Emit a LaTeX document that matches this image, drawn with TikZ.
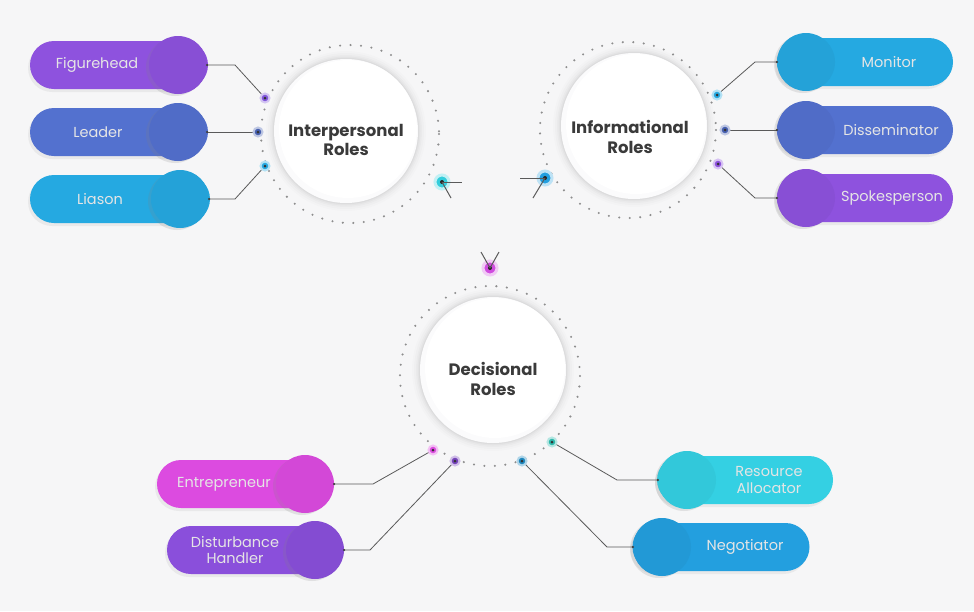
\documentclass[tikz,border=0pt]{standalone}
\usepackage{fontspec}
\setmainfont{Poppins}
\usetikzlibrary{shadows}

\definecolor{bg}{HTML}{F6F6F7}
\definecolor{cpurple}{HTML}{8E52DE}
\definecolor{cindigo}{HTML}{5371CF}
\definecolor{csky}{HTML}{25A9E1}
\definecolor{cmagenta}{HTML}{DC4BE0}
\definecolor{cviolet}{HTML}{8A4FDB}
\definecolor{ccyan}{HTML}{34D0E3}
\definecolor{cblue}{HTML}{239FDF}
\definecolor{cteal}{HTML}{2DB9AC}
\definecolor{dotgray}{HTML}{8E8E8E}
\definecolor{wire}{HTML}{5A5A5A}
\definecolor{heading}{HTML}{3A3A3A}

\tikzset{
  pillbar/.style={rectangle, rounded corners=24pt, minimum height=48pt, inner sep=0pt,
    fill=#1, drop shadow={shadow xshift=-2pt, shadow yshift=-3pt, opacity=.10}},
  knob/.style={circle, minimum size=58pt, inner sep=0pt, fill=#1,
    drop shadow={shadow xshift=-3pt, shadow yshift=-2pt, opacity=.18}},
  pilltext/.style={text=white!90!black, font=\fontsize{14.5}{16.5}\selectfont, align=center, inner sep=0pt},
  heading/.style={text=heading, font=\bfseries\fontsize{16.5}{19.5}\selectfont, align=center, inner sep=0pt},
  dotring/.style={draw=dotgray, line width=2.3pt, dash pattern=on 0pt off 10.5pt, line cap=round},
  wireline/.style={draw=wire, line width=0.8pt},
  tipdot/.style={circle, minimum size=9pt, inner sep=0pt, fill=#1, draw=#1!35, line width=2pt,
    path picture={\fill[black!80] (path picture bounding box.center) circle (1.5pt);}},
  bigpin/.style={circle, minimum size=14pt, inner sep=0pt, fill=#1, draw=#1!30, line width=3pt,
    path picture={\fill[black!85] (path picture bounding box.center) circle (2pt);}},
  endpt/.style={circle, fill=wire!70!black, minimum size=2.5pt, inner sep=0pt},
}

% white disc with a soft grey halo
\newcommand{\softdisc}[2]{%
  \foreach \k/\o in {8/0.012,6/0.016,4/0.02,2.5/0.025,1.2/0.03}{\fill[black,opacity=\o] #1 circle (#2+\k);}%
  \fill[white!60!bg] #1 circle (#2);
  \fill[white] #1 ++(2,-2) circle (#2-3);}

\begin{document}
\begin{tikzpicture}[x=1pt,y=-1pt]
\useasboundingbox (0,0) rectangle (974,611);
\fill[bg] (0,0) rectangle (974,611);

% ---------- the three role hubs ----------
\coordinate (ipc) at (350,134);
\coordinate (ifc) at (628,130);
\coordinate (dcc) at (490,376);
\draw[dotring] (ipc) circle (89);
\draw[dotring] (ifc) circle (88);
\draw[dotring] (dcc) circle (90);
\softdisc{(346,131)}{72}
\softdisc{(634,126)}{73}
\softdisc{(493,370)}{73}
\node[heading] (ip) at (346,140) {Interpersonal\\Roles};
\node[heading] (if) at (630,137) {Informational\\Roles};
\node[heading] (dc) at (493,379) {Decisional\\Roles};

% ---------- pills ----------
\node[pillbar=cpurple, minimum width=178pt] (figp) at (119,65) {};
\node[knob=cpurple!96!black] (figk) at (178,65) {};
\node[pilltext] at (97,65) {Figurehead};

\node[pillbar=cindigo, minimum width=178pt] (leap) at (119,132) {};
\node[knob=cindigo!96!black] (leak) at (178,132) {};
\node[pilltext] at (98,132) {Leader};

\node[pillbar=csky, minimum width=180pt] (liap) at (120,199) {};
\node[knob=csky!96!black] (liak) at (180,199) {};
\node[pilltext] at (100,199) {Liason};

\node[pillbar=csky, minimum width=176pt] (monp) at (865,62) {};
\node[knob=csky!96!black] (monk) at (806,62) {};
\node[pilltext] at (889,62) {Monitor};

\node[pillbar=cindigo, minimum width=176pt] (disp) at (865,130) {};
\node[knob=cindigo!96!black] (disk) at (806,130) {};
\node[pilltext] at (891,130) {Disseminator};

\node[pillbar=cpurple, minimum width=176pt] (spkp) at (865,198) {};
\node[knob=cpurple!96!black] (spkk) at (806,198) {};
\node[pilltext] at (892,198) {Spokesperson};

\node[pillbar=cmagenta, minimum width=176pt] (entp) at (245,484) {};
\node[knob=cmagenta!96!black] (entk) at (305,484) {};
\node[pilltext] at (224,484) {Entrepreneur};

\node[pillbar=cviolet, minimum width=176pt] (dhp) at (255,550) {};
\node[knob=cviolet!96!black] (dhk) at (315,550) {};
\node[pilltext] at (235,550) {Disturbance\\Handler};

\node[pillbar=ccyan, minimum width=176pt] (rap) at (745,480) {};
\node[knob=ccyan!96!black] (rak) at (687,480) {};
\node[pilltext] at (769,480) {Resource\\Allocator};

\node[pillbar=cblue, minimum width=177pt] (negp) at (721,547) {};
\node[knob=cblue!96!black] (negk) at (662,547) {};
\node[pilltext] at (745,547) {Negotiator};

% ---------- connector bends ----------
\coordinate (b1) at (235,65);
\coordinate (b3) at (235,199);
\coordinate (b4) at (755,62);
\coordinate (b6) at (755,198);
\coordinate (b7) at (373,484);
\coordinate (b8) at (370,550);
\coordinate (b9) at (617,480);
\coordinate (b10) at (607,547);

% ---------- end dots on the rings ----------
\coordinate (d1) at (265,98);
\coordinate (d2) at (258,132);
\coordinate (d3) at (265,166);
\coordinate (d4) at (717,95);
\coordinate (d5) at (725,130);
\coordinate (d6) at (718,164);
\coordinate (d7) at (433,450);
\coordinate (d8) at (455,461);
\coordinate (d9) at (552,442);
\coordinate (d10) at (522,461);

\draw[wireline] (figk.east) -- (b1) -- (d1);
\draw[wireline] (leak.east) -- (d2);
\draw[wireline] (liak.east) -- (b3) -- (d3);
\draw[wireline] (d4) -- (b4) -- (monk.west);
\draw[wireline] (d5) -- (disk.west);
\draw[wireline] (d6) -- (b6) -- (spkk.west);
\draw[wireline] (entk.east) -- (b7) -- (d7);
\draw[wireline] (dhk.east) -- (b8) -- (d8);
\draw[wireline] (d9) -- (b9) -- (rak.west);
\draw[wireline] (d10) -- (b10) -- (negk.west);

\foreach \k in {figk,leak,liak,entk,dhk}{\node[endpt] at (\k.east) {};}
\foreach \k in {monk,disk,spkk,rak,negk}{\node[endpt] at (\k.west) {};}

\node[tipdot=cpurple!80!cindigo] (t1) at (d1) {};
\node[tipdot=cindigo!85!black] (t2) at (d2) {};
\node[tipdot=csky] (t3) at (d3) {};
\node[tipdot=csky] (t4) at (d4) {};
\node[tipdot=cindigo!85!black] (t5) at (d5) {};
\node[tipdot=cpurple] (t6) at (d6) {};
\node[tipdot=cmagenta] (t7) at (d7) {};
\node[tipdot=cviolet!85!black] (t8) at (d8) {};
\node[tipdot=cteal] (t9) at (d9) {};
\node[tipdot=cblue!85!black] (t10) at (d10) {};

% ---------- needle pins between hubs ----------
\node[bigpin=ccyan!85!cteal] (pa) at (442,182) {};
\coordinate (pa1) at (462,182);
\coordinate (pa2) at (451,198);
\draw[wireline, line width=1pt] (pa.center) -- (pa1);
\draw[wireline, line width=1pt] (pa.center) -- (pa2);

\node[bigpin=cblue] (pb) at (545,178) {};
\coordinate (pb1) at (520,178);
\coordinate (pb2) at (533,198);
\draw[wireline, line width=1pt] (pb.center) -- (pb1);
\draw[wireline, line width=1pt] (pb.center) -- (pb2);

\node[bigpin=cmagenta!85!cviolet] (pc) at (490,268) {};
\coordinate (pc1) at (481,252);
\coordinate (pc2) at (499,252);
\draw[wireline, line width=1pt] (pc.center) -- (pc1);
\draw[wireline, line width=1pt] (pc.center) -- (pc2);
\end{tikzpicture}
\end{document}
